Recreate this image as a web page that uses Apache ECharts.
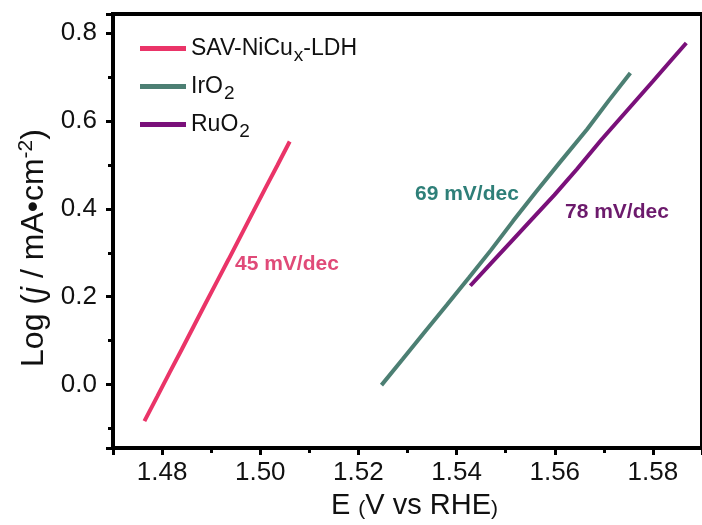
<!DOCTYPE html>
<html>
<head>
<meta charset="utf-8">
<script src="https://cdn.jsdelivr.net/npm/echarts@6/dist/echarts.min.js"></script>
<style>html,body{margin:0;padding:0;background:#fff;}#c{width:702px;height:525px;}</style>
</head>
<body>
<div id="c"></div>
<script>
// ---- data ----
var seriesNames = ['SAV-NiCux-LDH', 'IrO2', 'RuO2'];
var savE = [1.4764, 1.4790, 1.4815, 1.4840, 1.4865, 1.4890, 1.4912, 1.4935, 1.4960, 1.4986, 1.5010, 1.5035, 1.5060];
var savL = [-0.083, -0.027, 0.027, 0.080, 0.134, 0.188, 0.235, 0.284, 0.338, 0.394, 0.446, 0.499, 0.553];
var irE = [1.5247, 1.5290, 1.5335, 1.5380, 1.5425, 1.5470, 1.5515, 1.5562, 1.5610, 1.5666, 1.5710, 1.5754];
var irL = [-0.001, 0.058, 0.120, 0.181, 0.243, 0.306, 0.372, 0.439, 0.505, 0.581, 0.646, 0.709];
var ruE = [1.5428, 1.5470, 1.5515, 1.5555, 1.5599, 1.5645, 1.5695, 1.5747, 1.5800, 1.5835, 1.5868];
var ruL = [0.225, 0.276, 0.330, 0.378, 0.431, 0.490, 0.557, 0.623, 0.690, 0.735, 0.777];
var tafelLabels = ['45 mV/dec', '69 mV/dec', '78 mV/dec'];
var xMin = 1.47, xMax = 1.59;
var yMin = -0.144, yMax = 0.843;

var colors = ['#EA3468', '#4C7F73', '#7A107A'];
var labelColors = ['#E04A78', '#2E7F78', '#6C1A6C'];
var FONT = '"Liberation Sans", Arial, sans-serif';

function pairs(xs, ys) { return xs.map(function (x, i) { return [x, ys[i]]; }); }

var chart = echarts.init(document.getElementById('c'), null, {renderer: 'canvas'});

var legendRich = {
  n: {fontSize: 23, fontFamily: FONT, color: '#111', lineHeight: 26},
  sub: {fontSize: 19, fontFamily: FONT, color: '#111', lineHeight: 26, padding: [14, 0, 0, 1]}
};
function legendFmt(name) {
  if (name === 'SAV-NiCux-LDH') return '{n|SAV-NiCu}{sub|x}{n|-LDH}';
  if (name === 'IrO2') return '{n|IrO}{sub|2}';
  if (name === 'RuO2') return '{n|RuO}{sub|2}';
  return name;
}

var option = {
  backgroundColor: '#fff',
  animation: false,
  grid: {left: 113, right: -7, top: 14, bottom: 73, show: true, borderColor: '#000', borderWidth: 4, backgroundColor: 'transparent'},
  legend: {
    orient: 'vertical', left: 135, top: 27, itemWidth: 46, itemHeight: 5, itemGap: 5,
    icon: 'rect', formatter: legendFmt,
    textStyle: {rich: legendRich, fontFamily: FONT, fontSize: 23}
  },
  xAxis: [{
    type: 'value', min: xMin, max: xMax, interval: 0.01,
    axisLine: {show: true, onZero: false, lineStyle: {color: '#000', width: 4}},
    axisTick: {show: true, inside: false, length: 5, lineStyle: {color: '#000', width: 3}},
    splitLine: {show: false},
    axisLabel: {
      margin: 12, color: '#111', fontSize: 26, fontFamily: FONT,
      showMinLabel: false, showMaxLabel: false,
      formatter: function (v) {
        var k = Math.round(v * 100);
        if (Math.abs(v * 100 - k) > 1e-6 || k % 2 !== 0) return '';
        return (k / 100).toFixed(2);
      }
    },
    name: '{n|E }{p|(}{n|V vs RHE}{p|)}', nameLocation: 'middle', nameGap: 43,
    nameTextStyle: {padding: [0, 0, 0, 14], rich: {
      n: {fontSize: 29, fontFamily: FONT, color: '#111'},
      p: {fontSize: 21, fontFamily: FONT, color: '#111', padding: [7, 0, 0, 0]}
    }}
  }, {
    type: 'value', min: xMin, max: xMax, splitNumber: 6, position: 'bottom',
    axisLine: {show: false, onZero: false},
    axisTick: {show: true, length: 7, lineStyle: {color: '#000', width: 3}},
    axisLabel: {show: false}, splitLine: {show: false}
  }],
  yAxis: [{
    type: 'value', min: yMin, max: yMax, splitNumber: 10,
    axisLine: {show: true, onZero: false, lineStyle: {color: '#000', width: 4}},
    axisTick: {show: true, length: 5, lineStyle: {color: '#000', width: 3}},
    splitLine: {show: false},
    axisLabel: {
      margin: 16, color: '#111', fontSize: 26, fontFamily: FONT,
      showMinLabel: false, showMaxLabel: false,
      formatter: function (v) {
        var k = Math.round(v * 10);
        if (Math.abs(v * 10 - k) > 1e-6 || k % 2 !== 0) return '';
        return (k / 10).toFixed(1);
      }
    },
    name: '{n|Log (}{i|j}{n| / mA•cm}{sup|-2}{n|)}', nameLocation: 'middle', nameGap: 54, nameRotate: 90,
    nameTextStyle: {padding: [0, 34, 0, 0], rich: {
      n: {fontSize: 32, fontFamily: FONT, color: '#111'},
      i: {fontSize: 32, fontFamily: FONT, fontStyle: 'italic', color: '#111'},
      sup: {fontSize: 21, fontFamily: FONT, color: '#111', padding: [0, 0, 16, 0]}
    }}
  }, {
    type: 'value', min: yMin, max: yMax, splitNumber: 5, position: 'left',
    axisLine: {show: false, onZero: false},
    axisTick: {show: true, length: 7, lineStyle: {color: '#000', width: 3}},
    axisLabel: {show: false}, splitLine: {show: false}
  }],
  series: [
    {name: seriesNames[0], type: 'line', data: pairs(savE, savL), showSymbol: false, symbol: 'none', color: colors[0], lineStyle: {width: 4, color: colors[0]}},
    {name: seriesNames[1], type: 'line', data: pairs(irE, irL), showSymbol: false, symbol: 'none', color: colors[1], lineStyle: {width: 4, color: colors[1]}},
    {name: seriesNames[2], type: 'line', data: pairs(ruE, ruL), showSymbol: false, symbol: 'none', color: colors[2], lineStyle: {width: 4, color: colors[2]}}
  ],
  graphic: [
    {type: 'text', left: 235, top: 254, style: {text: tafelLabels[0], fill: labelColors[0], font: 'bold 21px ' + FONT}},
    {type: 'text', left: 415, top: 184, style: {text: tafelLabels[1], fill: labelColors[1], font: 'bold 21px ' + FONT}},
    {type: 'text', left: 565, top: 202, style: {text: tafelLabels[2], fill: labelColors[2], font: 'bold 21px ' + FONT}}
  ]
};
chart.setOption(option);
</script>
</body>
</html>
